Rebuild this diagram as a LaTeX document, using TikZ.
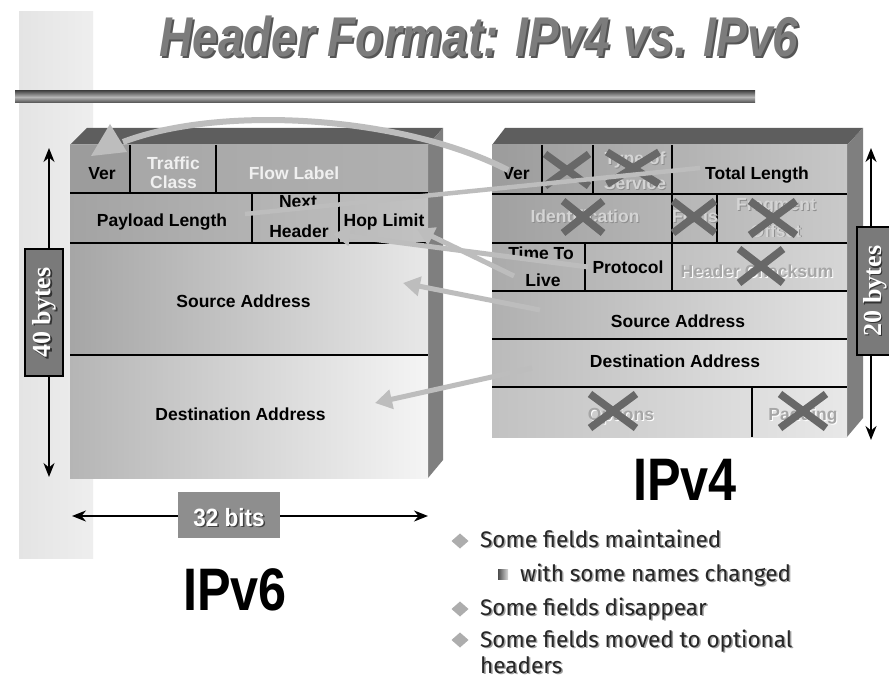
\documentclass[tikz,border=0pt]{standalone}
\usepackage{fontspec}
\setmainfont{Liberation Sans}
\newfontfamily\serifbold{Liberation Serif}
\newfontfamily\bulletfont{Fira Sans}
\usetikzlibrary{arrows.meta}
\definecolor{bevtop}{HTML}{5E5E5E}
\definecolor{bevside}{HTML}{7F7F7F}
\definecolor{arrowgray}{HTML}{BDBDBD}
\definecolor{xgray}{HTML}{686868}
\definecolor{fadelight}{HTML}{D4D4D4}
\definecolor{fadedark}{HTML}{A6A6A6}
\definecolor{fadeedge}{HTML}{8E8E8E}
\definecolor{fieldwhite}{HTML}{F0F0F0}
\definecolor{dimfill}{HTML}{7A7A7A}
\definecolor{bitsfill}{HTML}{8E8E8E}
\definecolor{titlegray}{HTML}{7C7C7C}
\definecolor{titleshadow}{HTML}{555555}
\definecolor{bandgray}{HTML}{E4E4E4}
\definecolor{bandlight}{HTML}{EEEEEE}
\definecolor{bardark}{HTML}{4C4C4C}
\definecolor{barlight}{HTML}{B5B5B5}
\definecolor{bulletcol}{HTML}{262626}
\definecolor{bulletshadow}{HTML}{A0A0A0}
\definecolor{diamondgray}{HTML}{ADADAD}
\tikzset{
  fld/.style={font=\fontsize{17.5}{20}\selectfont\bfseries, inner sep=0pt, anchor=base},
  fldw/.style={fld, text=fieldwhite},
  fldf/.style={fld, text=fadelight},
  fldfe/.style={fld, text=fadeedge},
  fldd/.style={fld, text=fadedark},
  fldde/.style={fld, text=white},
  sepline/.style={line width=2pt, draw=black},
  movearrow/.style={draw=arrowgray, line width=5pt, -{Triangle[length=17pt,width=19pt]}},
  moveline/.style={draw=arrowgray, line width=4.5pt},
  dimarrow/.style={line width=1.8pt, {Stealth[length=14pt,width=11pt]}-{Stealth[length=14pt,width=11pt]}},
  crossx/.style={draw=xgray, line width=7.5pt},
  bigl/.style={font=\fontsize{60}{60}\selectfont\bfseries, anchor=base, inner sep=0pt},
  btext/.style={font=\bulletfont\fontsize{22.5}{25}\selectfont, anchor=base west, inner sep=0pt, text=bulletcol},
  bshadow/.style={btext, text=bulletshadow},
  dimbox/.style={draw=black, line width=1.5pt, fill=dimfill},
  dimtext/.style={font=\serifbold\bfseries\fontsize{26}{26}\selectfont, text=white, inner sep=0pt, rotate=90},
  dimshadow/.style={dimtext, text=black!80},
}
\newcommand\crossmark[4]{%
  \draw[crossx] (#1-#3,#2-#4) -- (#1+#3,#2+#4);
  \draw[crossx] (#1-#3,#2+#4) -- (#1+#3,#2-#4);}
\begin{document}
\begin{tikzpicture}[x=1pt,y=-1pt]
\useasboundingbox (0,0) rectangle (889,679);
\fill[white] (0,0) rectangle (889,679);
% background band
\shade[left color=bandgray, right color=bandlight] (19,12) rectangle (93,558);
% title
\node[font=\fontsize{56}{56}\selectfont\bfseries\itshape, text=titleshadow, anchor=base, inner sep=0pt] (titleshadow) at (481,59) {\scalebox{0.82}[1]{Header Format: IPv4 vs. IPv6}};
\node[font=\fontsize{56}{56}\selectfont\bfseries\itshape, text=titlegray, anchor=base, inner sep=0pt] (title) at (479,57) {\scalebox{0.82}[1]{Header Format: IPv4 vs. IPv6}};
% bar
\shade[top color=bardark, bottom color=bardark, middle color=barlight] (15,91) rectangle (755,103);

% ===== IPv6 box =====
\fill[bevtop] (70,145) -- (87,128) -- (443,128) -- (428,145) -- cycle;
\fill[bevside] (428,145) -- (443,128) -- (443,460) -- (428,478) -- cycle;
\shade[left color=black!35, right color=black!31] (70,145) rectangle (428,193);
\fill[black!39] (70,145) rectangle (130,193);
\shade[left color=black!36, right color=black!24] (70,193) rectangle (428,243);
\shade[left color=black!35, right color=black!9] (70,243) rectangle (428,355);
\shade[left color=black!29, right color=black!4] (70,355) rectangle (428,478);
\draw[sepline] (70,193) -- (428,193);
\draw[sepline] (70,243) -- (428,243);
\draw[sepline] (70,355) -- (428,355);
\draw[sepline] (130,145) -- (130,193);
\draw[sepline] (216,145) -- (216,193);
\draw[sepline] (252,193) -- (252,243);
\draw[sepline] (339,193) -- (339,243);
\node[fld] (v6ver) at (102,180) {Ver};
\node[fldw] (v6tc) at (173.5,170) {Traffic};
\node[fldw] (v6tc2) at (173.5,189) {Class};
\node[fldw] (v6fl) at (294,180) {Flow Label};
\node[fld] (v6pl) at (162,227) {Payload Length};
\begin{scope}
\clip (252,195) rectangle (339,243);
\node[fld] (v6nh) at (298,208) {Next};
\end{scope}
\node[fld] (v6nh2) at (299,237) {Header};
\node[fld] (v6hl) at (384,227) {Hop Limit};
\node[fld] (v6src) at (243.5,307) {Source Address};
\node[fld] (v6dst) at (240.5,420) {Destination Address};

% ===== IPv4 box =====
\fill[bevtop] (492,145) -- (505,128) -- (863,128) -- (847,145) -- cycle;
\fill[bevside] (847,145) -- (863,128) -- (863,418) -- (847,437) -- cycle;
\shade[left color=black!39, right color=black!22] (492,145) rectangle (847,194);
\shade[left color=black!37, right color=black!21] (492,194) rectangle (847,243);
\shade[left color=black!33, right color=black!16] (492,243) rectangle (847,291);
\shade[left color=black!31, right color=black!11] (492,291) rectangle (847,339);
\shade[left color=black!27, right color=black!8] (492,339) rectangle (847,387);
\shade[left color=black!24, right color=black!9] (492,387) rectangle (847,437);
\draw[sepline] (492,194) -- (847,194);
\draw[sepline] (492,243) -- (847,243);
\draw[sepline] (492,291) -- (847,291);
\draw[sepline] (492,339) -- (847,339);
\draw[sepline] (492,387) -- (847,387);
\draw[sepline] (542,145) -- (542,194);
\draw[sepline] (593,145) -- (593,194);
\draw[sepline] (672,145) -- (672,194);
\draw[sepline] (672,194) -- (672,243);
\draw[sepline] (717,194) -- (717,243);
\draw[sepline] (585,243) -- (585,291);
\draw[sepline] (672,243) -- (672,291);
\draw[sepline] (752,387) -- (752,437);
\node[fld] (v4ver) at (516,180) {Ver};
% faded (removed) fields: embossed look
\node[fldfe] at (636,166) {Type of};
\node[fldf] (v4tos) at (635,165) {Type of};
\node[fldfe] at (636,191) {Service};
\node[fldf] (v4tos2) at (635,190) {Service};
\node[fld] (v4tl) at (757,180) {Total Length};
\node[fldfe] at (586,224) {Identification};
\node[fldf] (v4id) at (585,223) {Identification};
\node[fldfe] at (696,224) {Flags};
\node[fldf] (v4flg) at (695,223) {Flags};
\node[fldfe] at (777,212) {Fragment};
\node[fldf] (v4fo) at (776,211) {Fragment};
\node[fldfe] at (777,238) {Offset};
\node[fldf] (v4fo2) at (776,237) {Offset};
\begin{scope}
\clip (492,245) rectangle (585,291);
\node[fld] (v4ttl) at (541,260) {Time To};
\end{scope}
\node[fld] (v4ttl2) at (543,287) {Live};
\node[fld] (v4pr) at (628,273) {Protocol};
\node[fldde] at (758,278) {Header Checksum};
\node[fldd] (v4hc) at (757,277) {Header Checksum};
\node[fld] (v4src) at (678,327) {Source Address};
\node[fld] (v4dst) at (675,367) {Destination Address};
\node[fldde] at (622,421) {Options};
\node[fldd] (v4opt) at (621,420) {Options};
\node[fldde] at (804,421) {Padding};
\node[fldd] (v4pad) at (803,420) {Padding};
% crosses
\crossmark{567}{170}{22}{16}
\crossmark{633}{168}{26}{16}
\crossmark{583}{217}{20}{16}
\crossmark{694}{217}{21}{16}
\crossmark{773}{218}{23}{17}
\crossmark{761}{266}{22}{17}
\crossmark{613}{411}{23}{17}
\crossmark{803}{411}{23}{17}

% ===== moving arrows =====
\coordinate (arcstart) at (508,170);
\coordinate (arcend) at (123,142);
\draw[arrowgray, line width=6pt] (arcstart) .. controls (400,115) and (220,105) .. (arcend);
\fill[arrowgray] (110,124) -- (91,156) -- (127,152) -- cycle;
\coordinate (tlstart) at (700,168);
\coordinate (plend) at (245,214);
\draw[moveline] (tlstart) -- (plend);
\coordinate (prstart) at (588,267);
\coordinate (nhtip) at (333,234);
\draw[movearrow] (prstart) -- (nhtip);
\coordinate (ttlstart) at (514,276);
\coordinate (hltip) at (417,229);
\draw[movearrow] (ttlstart) -- (hltip);
\coordinate (srcstart) at (540,310);
\coordinate (srctip) at (403,283);
\draw[movearrow] (srcstart) -- (srctip);
\coordinate (dststart) at (532,368);
\coordinate (dsttip) at (375,403);
\draw[movearrow] (dststart) -- (dsttip);

% ===== dimensions =====
\coordinate (h40top) at (49,148);
\coordinate (h40bot) at (49,477);
\draw[dimarrow] (h40top) -- (h40bot);
\node[dimbox, minimum width=38pt, minimum height=127pt, inner sep=0pt] (b40) at (44,312.5) {};
\node[dimshadow] (t40s) at (46,314) {40 bytes};
\node[dimtext] (t40) at (44.5,312.5) {40 bytes};

\coordinate (h20top) at (871,148);
\coordinate (h20bot) at (871,440);
\draw[dimarrow] (h20top) -- (h20bot);
\node[dimbox, minimum width=38pt, minimum height=128pt, inner sep=0pt] (b20) at (876,291) {};
\node[dimshadow] (t20s) at (876.5,292.5) {20 bytes};
\node[dimtext] (t20) at (875,291) {20 bytes};

\coordinate (w32l) at (72,516);
\coordinate (w32r) at (428,516);
\draw[dimarrow] (w32l) -- (w32r);
\node[fill=bitsfill, minimum width=102pt, minimum height=46pt, inner sep=0pt] (b32) at (229,515) {};
\node[font=\fontsize{25}{25}\selectfont\bfseries, text=black!75, anchor=base, inner sep=0pt] (t32s) at (230.5,527.5) {\scalebox{0.9}[1]{32 bits}};
\node[font=\fontsize{25}{25}\selectfont\bfseries, text=white, anchor=base, inner sep=0pt] (t32) at (229,526) {\scalebox{0.9}[1]{32 bits}};

% ===== labels =====
\node[bigl] (ipv6) at (235,610) {\scalebox{0.84}[1]{IPv6}};
\node[bigl] (ipv4) at (685,500) {\scalebox{0.84}[1]{IPv4}};

% ===== bullets =====
\fill[diamondgray] (460,533.5) -- (468.5,541) -- (460,548.5) -- (451.5,541) -- cycle;
\fill[diamondgray] (460,601.5) -- (468.5,609) -- (460,616.5) -- (451.5,609) -- cycle;
\fill[diamondgray] (460,632.5) -- (468.5,640) -- (460,647.5) -- (451.5,640) -- cycle;
\shade[left color=black!70, right color=black!15] (498,569) rectangle (508,579);
\node[bshadow] at (481.5,548.5) {Some fields maintained};
\node[btext] (b1) at (480,547) {Some fields maintained};
\node[bshadow] at (521.5,582.5) {with some names changed};
\node[btext] (b1a) at (520,581) {with some names changed};
\node[bshadow] at (481.5,616.5) {Some fields disappear};
\node[btext] (b2) at (480,615) {Some fields disappear};
\node[bshadow] at (481.5,648.5) {Some fields moved to optional};
\node[btext] (b3) at (480,647) {Some fields moved to optional};
\node[bshadow] at (481.5,674.5) {headers};
\node[btext] (b3b) at (480,673) {headers};
\end{tikzpicture}
\end{document}
